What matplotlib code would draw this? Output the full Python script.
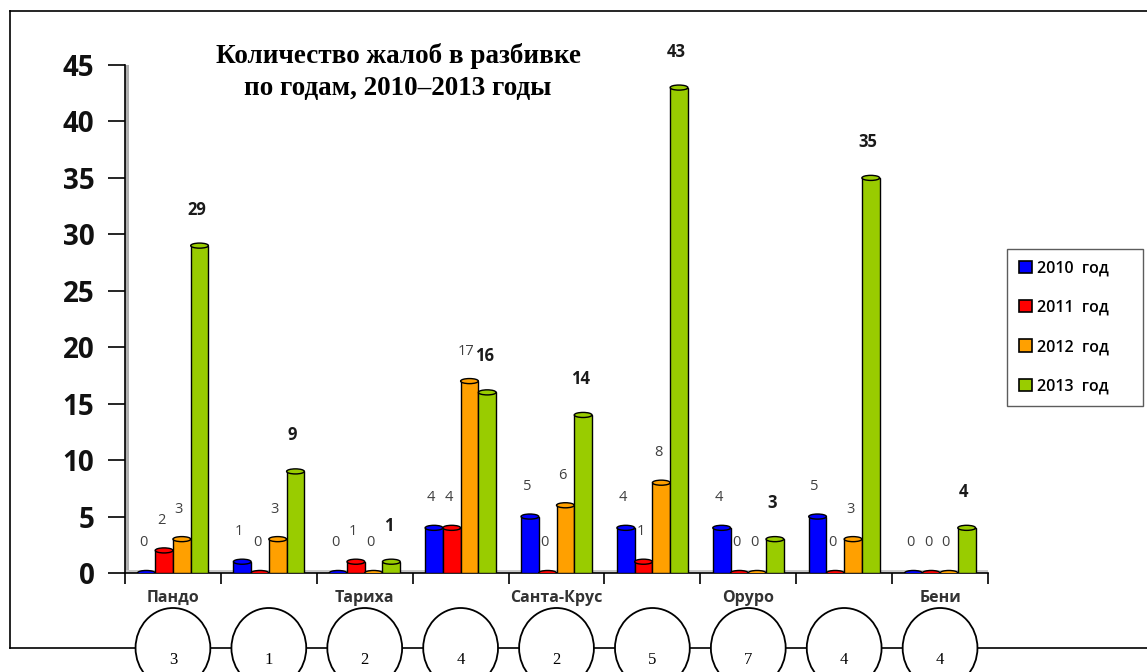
import numpy as np
import matplotlib.pyplot as plt
import matplotlib.transforms as mtransforms
from matplotlib.patches import Ellipse, Patch
from matplotlib.lines import Line2D

plt.rcParams['font.family'] = ['Open Sans', 'DejaVu Sans']
plt.rcParams['font.size'] = 11

regions = ['Пандо', '', 'Тариха', '', 'Санта-Крус', '', 'Оруро', '', 'Бени']
circle_numbers = ['3', '1', '2', '4', '2', '5', '7', '4', '4']

years = ['2010  год', '2011  год', '2012  год', '2013  год']
y2010 = [0, 1, 0, 4, 5, 4, 4, 5, 0]
y2011 = [2, 0, 1, 4, 0, 1, 0, 0, 0]
y2012 = [3, 3, 0, 17, 6, 8, 0, 3, 0]
y2013 = [29, 9, 1, 16, 14, 43, 3, 35, 4]

colours = ['#0000ff', '#ff0000', '#ffa000', '#99cc00']

W, H = 1147, 672


def fx(px):
    return px / W


def fy(py):
    return 1 - py / H


fig = plt.figure(figsize=(W / 100, H / 100), dpi=100)
ax = fig.add_axes([fx(125), fy(573), fx(988) - fx(125), fy(65) - fy(573)])

n = len(regions)
centres = np.arange(n) + 0.5
w = 0.185
series = [y2010, y2011, y2012, y2013]

for k, vals in enumerate(series):
    xs = centres + (k - 1.5) * w
    ax.bar(xs, vals, width=w, color=colours[k], edgecolor='black',
           linewidth=1.0, zorder=3)
    for x, v in zip(xs, vals):
        # cylinder cap
        ax.add_patch(Ellipse((x, v), w, 0.45, facecolor=colours[k],
                             edgecolor='black', linewidth=1.0, zorder=4))
        if k == 3:
            ax.annotate(str(v), (x, v), xytext=(-3, 36), textcoords='offset pixels',
                        ha='center', va='center', fontsize=12, fontweight='bold',
                        color='#1a1a1a', annotation_clip=False)
        else:
            ax.annotate(str(v), (x, v), xytext=(-3, 30), textcoords='offset pixels',
                        ha='center', va='center', fontsize=10.5, color='#404040',
                        annotation_clip=False)

ax.set_xlim(0, n)
ax.set_ylim(0, 45)
ax.set_yticks(np.arange(0, 46, 5))
ax.set_yticklabels([str(v) for v in range(0, 46, 5)], fontsize=20,
                   fontweight='bold', color='#111111')
ax.set_xticks(np.arange(n + 1))
ax.set_xticklabels([])
ax.tick_params(axis='y', length=12, width=1.2, pad=10)
ax.tick_params(axis='x', length=8, width=1.2)
for side in ['top', 'right']:
    ax.spines[side].set_visible(False)
ax.spines['left'].set_linewidth(1.2)
ax.spines['bottom'].set_linewidth(1.2)
# back wall / floor shading
ax.axvspan(0, 0.04, color='#b0b0b0', zorder=1, lw=0)
ax.axhspan(0, 0.25, color='#c8c8c8', zorder=1, lw=0)

trans = mtransforms.blended_transform_factory(ax.transData, fig.transFigure)
for c, name in zip(centres, regions):
    if name:
        ax.text(c, fy(598), name, transform=trans, ha='center', va='center',
                fontsize=11.5, fontweight='bold', color='#333333')

# outer frame
fig.add_artist(Line2D([fx(10), fx(10)], [fy(11), fy(648)], color='black', lw=1.2))
fig.add_artist(Line2D([fx(10), 1], [fy(11), fy(11)], color='black', lw=1.2))
fig.add_artist(Line2D([fx(10), 1], [fy(648), fy(648)], color='black', lw=1.2))

for c, num in zip(centres, circle_numbers):
    fig.add_artist(Ellipse((c, fy(648)), 0.78, 80 / H, transform=trans,
                           facecolor='white', edgecolor='black', linewidth=1.3,
                           clip_on=False, zorder=5))
    fig.add_artist(plt.Text(c, fy(660), num, transform=trans, fontsize=12,
                            family='Liberation Serif', ha='center', va='center',
                            zorder=6))

fig.text(fx(398), fy(56), 'Количество жалоб в разбивке', ha='center', va='center',
         fontsize=19.5, fontweight='bold', family='Liberation Serif')
fig.text(fx(398), fy(88), 'по годам, 2010–2013 годы', ha='center', va='center',
         fontsize=19.5, fontweight='bold', family='Liberation Serif')

handles = [Patch(facecolor=c, edgecolor='black', linewidth=1.2) for c in colours]
leg = fig.legend(handles, years, loc='center',
                 bbox_to_anchor=(fx(1007), fy(405), fx(1143) - fx(1007), fy(250) - fy(405)),
                 mode='expand', borderaxespad=0, frameon=True, fancybox=False,
                 handlelength=0.8, handleheight=0.8, handletextpad=0.3,
                 labelspacing=1.45, borderpad=0.75,
                 prop={'size': 11.5, 'weight': 'semibold'})
leg.get_frame().set_edgecolor('#333333')
leg.get_frame().set_linewidth(1.0)

plt.savefig('out.png', dpi=100)
plt.close()
